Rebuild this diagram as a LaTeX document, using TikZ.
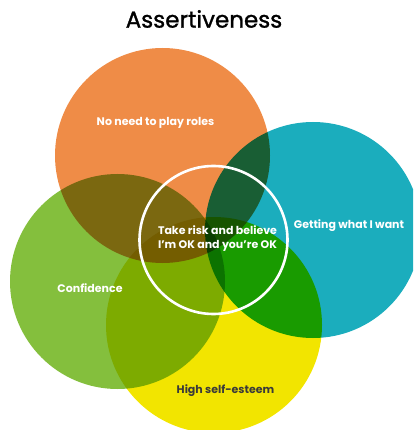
\documentclass[tikz,border=0pt]{standalone}
\usepackage{fontspec}
\setmainfont{Poppins}
\newfontfamily\titlefont{Poppins}[BoldFont=Poppins, BoldFeatures={FakeBold=1.2}]

\definecolor{rolesorange}{HTML}{EF8C47}
\definecolor{wantteal}{HTML}{1BADBD}
\definecolor{confgreen}{HTML}{84BF3D}
\definecolor{esteemyellow}{HTML}{F2E500}
\definecolor{esteemgray}{HTML}{3A3A3A}

\tikzset{
  bubble/.style={circle, inner sep=0pt, minimum size=#1},
  lbl/.style={font=\fontsize{11}{13}\selectfont\bfseries, text=white, align=center, inner sep=0pt},
}

\begin{document}
\begin{tikzpicture}[x=1pt, y=-1pt]
  \useasboundingbox (0,0) rectangle (413,430);
  \clip (0,0) rectangle (413,430);
  % the four overlapping circles, mixed by multiplying
  \begin{scope}[blend mode=multiply]
    \node[bubble=215pt, fill=rolesorange]  (roles)  at (162.5,155.5) {};
    \node[bubble=216pt, fill=wantteal]     (want)   at (313,230) {};
    \node[bubble=215pt, fill=confgreen]    (conf)   at (117.5,281.5) {};
    \node[bubble=216pt, fill=esteemyellow] (esteem) at (214,325) {};
  \end{scope}
  % the ring in the middle
  \node[bubble=148pt, draw=white, line width=2.6pt] (core) at (213.5,240) {};
  % title
  \node[font=\titlefont\bfseries\fontsize{23}{26}\selectfont] (title) at (204,19) {Assertiveness};
  % labels
  \node[lbl] (rolestext)  at (155.5,123) {No need to play roles};
  \node[lbl] (wanttext)   at (349,226)   {Getting what I want};
  \node[lbl] (conftext)   at (90,288)    {Confidence};
  \node[lbl, text=esteemgray] (esteemtext) at (225.5,391) {High self-esteem};
  \node[lbl, font=\fontsize{11}{14.5}\selectfont\bfseries] (coretext) at (217.5,238.5)
    {Take risk and believe\\I’m OK and you’re OK};
\end{tikzpicture}
\end{document}
